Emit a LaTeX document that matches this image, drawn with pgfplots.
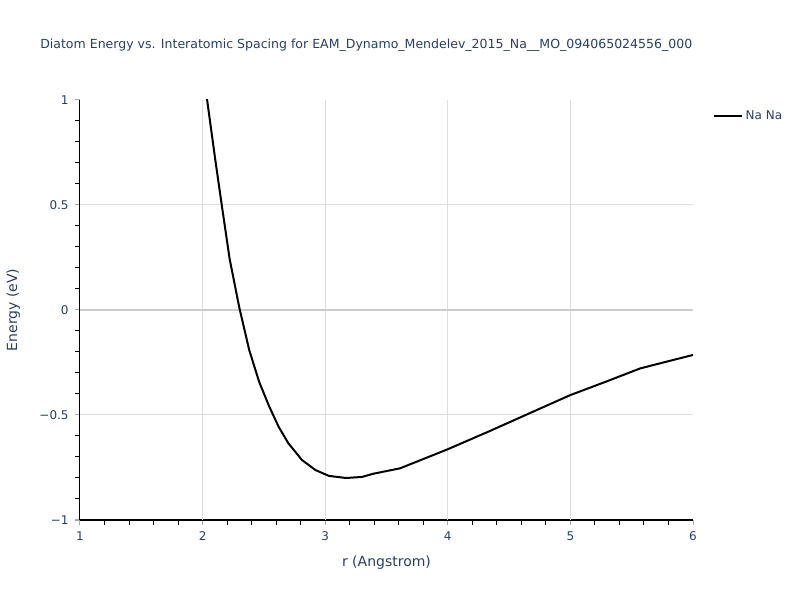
\documentclass[border=0pt]{standalone}
\usepackage{fontspec}
\setmainfont{DejaVu Sans}
\usepackage{pgfplots}
\pgfplotsset{compat=1.18}
\definecolor{plytext}{HTML}{2A3F5F}
\definecolor{plygrid}{HTML}{DEDEDE}
\definecolor{plyzero}{HTML}{CCCCCC}
\definecolor{plytick}{HTML}{AAAAAA}

\begin{document}
\begin{tikzpicture}[x=1pt,y=1pt]
  % page frame: 800x600 px -> 600x450 pt, axis origin at (60pt,60pt)
  \path (-60,-60) rectangle (540,390);
  \begin{axis}[
      at={(0,0)}, anchor=south west,
      scale only axis,
      width=459.75pt, height=315pt,
      xmin=1, xmax=6, ymin=-1, ymax=1,
      xtick={1,2,3,4,5,6},
      ytick={-1,-0.5,0,0.5,1},
      yticklabels={−1,−0.5,0,0.5,1},
      xticklabels={1,2,3,4,5,6},
      minor x tick num=4,
      minor y tick num=4,
      axis x line*=bottom, axis y line*=left,
      axis line style={black, line width=0.75pt},
      every outer x axis line/.append style={-},
      every outer y axis line/.append style={-},
      tick align=outside,
      major tick length=4pt, minor tick length=3.5pt,
      major tick style={plytick, line width=0.75pt},
      minor tick style={black, line width=0.75pt},
      grid=none,
      extra x ticks={2,3,4,5},
      extra x tick labels={},
      extra x tick style={grid=major, major grid style={plygrid, line width=0.75pt}, major tick length=0pt},
      extra y ticks={-0.5,0.5},
      extra y tick labels={},
      extra y tick style={grid=major, major grid style={plygrid, line width=0.75pt}, major tick length=0pt},
      ticklabel style={font=\fontsize{9}{10}\selectfont, text=plytext},
      xticklabel style={yshift=-1pt},
      yticklabel style={xshift=-1pt},
      xlabel={r (Angstrom)},
      ylabel={Energy (eV)},
      label style={font=\fontsize{10.5}{12}\selectfont, text=plytext},
      xlabel style={at={(0.5,0)}, anchor=center, yshift=-32pt},
      ylabel style={at={(0,0.5)}, anchor=center, yshift=50pt},
      clip=true,
      legend style={at={(1.03,0.985)}, anchor=north west, draw=none, fill=none,
        font=\fontsize{9}{10}\selectfont, text=plytext, inner sep=1pt},
      legend cell align=left,
      legend image code/.code={\draw[black, line width=1.5pt] (0pt,0pt) -- (21pt,0pt);},
    ]
    \addplot[plyzero, line width=1.5pt, forget plot] coordinates {(1,0) (6,0)};
    \addplot[black, line width=1.5pt] coordinates {
      (2.00,1.17) (2.037,1.0) (2.10,0.73) (2.155,0.505) (2.22,0.245)
      (2.30,0.01) (2.38,-0.19) (2.46,-0.34) (2.54,-0.455)
      (2.62,-0.556) (2.70,-0.635) (2.81,-0.714) (2.92,-0.762) (3.03,-0.79)
      (3.17,-0.80) (3.30,-0.795) (3.39,-0.78) (3.61,-0.754) (4.00,-0.663)
      (4.34,-0.577) (4.75,-0.47) (5.00,-0.405) (5.30,-0.339) (5.57,-0.278)
      (6.00,-0.214)
    };
    \addlegendentry{Na Na}
  \end{axis}
  \node[anchor=west, font=\fontsize{9.4}{11}\selectfont, text=plytext, inner sep=0pt]
    at (-30,356) {Diatom Energy vs. Interatomic Spacing for EAM\_Dynamo\_Mendelev\_2015\_Na\_\_MO\_094065024556\_000};
\end{tikzpicture}
\end{document}
